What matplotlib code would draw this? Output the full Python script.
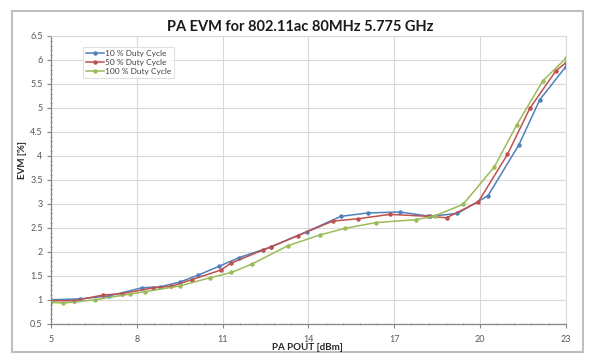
import matplotlib.pyplot as plt
from matplotlib.ticker import MultipleLocator
from matplotlib.patches import Rectangle

plt.rcParams['font.family'] = ['Lato', 'DejaVu Sans']

# PA output power [dBm] and EVM [%] per duty cycle
x_10 = [5.0, 6.0, 7.03, 8.17, 8.81, 9.5, 10.13, 10.88, 11.58, 12.68, 13.94,
        15.14, 16.07, 17.2, 18.25, 19.21, 20.28, 21.36, 22.09, 23.0]
evm_10 = [1.0, 1.02, 1.08, 1.25, 1.27, 1.37, 1.51, 1.7, 1.88, 2.1, 2.42,
          2.74, 2.81, 2.83, 2.74, 2.8, 3.17, 4.23, 5.17, 5.86]

x_50 = [5.0, 5.8, 6.83, 7.5, 8.58, 9.2, 9.92, 10.94, 11.28, 12.42, 12.68,
        13.64, 14.85, 15.74, 16.85, 18.19, 18.83, 19.94, 20.96, 21.74, 22.65, 23.0]
evm_50 = [0.98, 0.98, 1.1, 1.13, 1.25, 1.28, 1.42, 1.62, 1.76, 2.04, 2.1,
          2.34, 2.64, 2.69, 2.78, 2.74, 2.71, 3.04, 4.03, 4.99, 5.77, 5.94]

x_100 = [5.0, 5.43, 6.54, 7.76, 8.29, 9.51, 10.56, 11.31, 12.04, 13.29, 14.4,
         15.28, 16.36, 17.76, 18.42, 19.41, 20.5, 21.28, 22.19, 23.0]
evm_100 = [0.95, 0.93, 1.0, 1.12, 1.17, 1.29, 1.46, 1.57, 1.75, 2.13, 2.35,
           2.49, 2.61, 2.67, 2.75, 2.99, 3.77, 4.64, 5.56, 6.03]

x_ticks = [5, 8, 11, 14, 17, 20, 23]
y_ticks = [0.5, 1, 1.5, 2, 2.5, 3, 3.5, 4, 4.5, 5, 5.5, 6, 6.5]
y_ticklabels = ['0.5', '1', '1.5', '2', '2.5', '3', '3.5', '4', '4.5', '5', '5.5', '6', '6.5']

labels = ['10 % Duty Cycle', '50 % Duty Cycle', '100 % Duty Cycle']
colors = ['#4f81bd', '#c0504d', '#9bbb59']

fig = plt.figure(figsize=(6, 3.63), dpi=100)
ax = fig.add_axes([0.085, 0.108, 0.858, 0.793])

for xs, ys, lab, c in zip([x_10, x_50, x_100], [evm_10, evm_50, evm_100], labels, colors):
    ax.plot(xs, ys, color=c, lw=1.1, marker='o', ms=2.2, label=lab)

ax.set_xlim(5, 23)
ax.set_ylim(0.5, 6.5)
ax.set_xticks(x_ticks)
ax.set_xticks([5 + 0.6 * i for i in range(31)], minor=True)
ax.set_yticks(y_ticks)
ax.set_yticklabels(y_ticklabels)
ax.yaxis.set_minor_locator(MultipleLocator(0.1))
ax.grid(True, which='major', color='#d9d9d9', lw=0.8)
ax.set_axisbelow(True)
ax.tick_params(which='major', length=3, color='#868686', labelsize=6.5,
               labelcolor='#595959', pad=3)
ax.tick_params(which='minor', length=2, color='#868686', direction='inout')
ax.tick_params(axis='x', which='major', pad=5)
for s in ['top', 'right']:
    ax.spines[s].set_color('#d9d9d9')
    ax.spines[s].set_linewidth(0.8)
for s in ['left', 'bottom']:
    ax.spines[s].set_color('#868686')
    ax.spines[s].set_linewidth(0.9)

leg = ax.legend(loc='upper left', bbox_to_anchor=(0.062, 0.96), fontsize=6,
                frameon=True, fancybox=False, handlelength=2.2, handletextpad=0.1,
                borderpad=0.35, labelspacing=0.2, borderaxespad=0)
leg.get_frame().set_edgecolor('#d9d9d9')
leg.get_frame().set_linewidth(0.8)
for t in leg.get_texts():
    t.set_color('#404040')

fig.text(0.5, 0.925, 'PA EVM for 802.11ac 80MHz 5.775 GHz', ha='center', va='center',
         fontsize=10.5, fontweight='bold', color='#1a1a1a')
fig.text(0.513, 0.044, 'PA POUT [dBm]', ha='center', va='center',
         fontsize=7, fontweight='bold', color='#262626')
fig.text(0.037, 0.56, 'EVM [%]', ha='center', va='center', rotation=90,
         fontsize=7, fontweight='bold', color='#262626')

fig.patches.append(Rectangle((0.02, 0.03), 0.952, 0.94, transform=fig.transFigure,
                             fill=False, edgecolor='#bfbfbf', lw=1.5))

fig.savefig('out.png', dpi=100)
